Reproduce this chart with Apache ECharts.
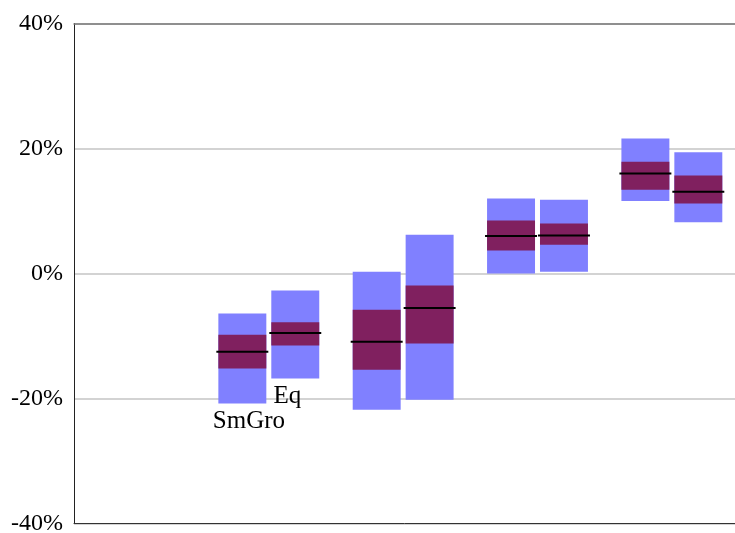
<!DOCTYPE html>
<html>
<head>
<meta charset="utf-8">
<style>
  html, body { margin: 0; padding: 0; background: #fff; }
  #chart { width: 735px; height: 533px; }
</style>
<script src="https://cdn.jsdelivr.net/npm/echarts@6/dist/echarts.min.js"></script>
</head>
<body>
<div id="chart"></div>
<script>
// Period positions along the x axis
var periods = [1, 2, 3, 4];

// SmGro: range (low/high), inner band (q1/q3) and median, in %
var smGroLow  = [-20.8, -21.8, 0.0, 11.6];
var smGroQ1   = [-15.2, -15.4, 3.7, 13.4];
var smGroMed  = [-12.5, -10.9, 6.0, 16.0];
var smGroQ3   = [-9.8, -5.8, 8.5, 17.9];
var smGroHigh = [-6.4, 0.3, 12.0, 21.6];

// Eq: range (low/high), inner band (q1/q3) and median, in %
var eqLow  = [-16.8, -20.2, 0.3, 8.2];
var eqQ1   = [-11.5, -11.2, 4.6, 11.2];
var eqMed  = [-9.5, -5.5, 6.1, 13.1];
var eqQ3   = [-7.8, -1.9, 8.0, 15.7];
var eqHigh = [-2.7, 6.2, 11.8, 19.4];

var yTicks = [-40, -20, 0, 20, 40];

var FONT = "'Liberation Serif', 'Times New Roman', serif";
var OUTER = '#8080ff';
var INNER = '#80205f';

function rows(low, q1, med, q3, high) {
  return periods.map(function (p, i) {
    return [p, low[i], q1[i], med[i], q3[i], high[i]];
  });
}

// Box drawn from the axis scales; shift is the side offset and
// labelDx the horizontal nudge of the series name under the first box.
function makeRender(shift, labelDx) {
  return function (params, api) {
    var unit = api.size([1, 0])[0];
    var w = unit * 0.357;
    var x = api.value(0) + shift;
    var cx = api.coord([x, 0])[0];
    var yLow = api.coord([x, api.value(1)])[1];
    var yQ1 = api.coord([x, api.value(2)])[1];
    var yMed = api.coord([x, api.value(3)])[1];
    var yQ3 = api.coord([x, api.value(4)])[1];
    var yHigh = api.coord([x, api.value(5)])[1];
    var children = [
      { type: 'rect', shape: { x: cx - w / 2, y: yHigh, width: w, height: yLow - yHigh },
        style: { fill: OUTER } },
      { type: 'rect', shape: { x: cx - w / 2, y: yQ3, width: w, height: yQ1 - yQ3 },
        style: { fill: INNER } },
      { type: 'line', shape: { x1: cx - w / 2 - 2, y1: yMed, x2: cx + w / 2 + 2, y2: yMed },
        style: { stroke: '#000', lineWidth: 2 } }
    ];
    if (params.dataIndex === 0) {
      children.push({
        type: 'text',
        style: {
          x: cx + labelDx, y: yLow + 18,
          text: params.seriesName,
          fill: '#000',
          font: '25px ' + FONT,
          align: 'center',
          verticalAlign: 'middle'
        }
      });
    }
    return { type: 'group', children: children };
  };
}

var chart = echarts.init(document.getElementById('chart'), null, { renderer: 'canvas' });

chart.setOption({
  animation: false,
  backgroundColor: '#fff',
  grid: {
    left: 74, right: 0, top: 23.5, bottom: 9.5,
    containLabel: false, outerBoundsMode: 'none'
  },
  xAxis: [
    {
      type: 'value', min: -0.45, max: 4.47, position: 'bottom',
      axisLine: { show: true, onZero: false, lineStyle: { color: '#333', width: 1 } },
      axisTick: { show: false }, axisLabel: { show: false }, splitLine: { show: false }
    },
    {
      type: 'value', min: -0.45, max: 4.47, position: 'top',
      axisLine: { show: true, onZero: false, lineStyle: { color: '#7a7a7a', width: 1.5 } },
      axisTick: { show: false }, axisLabel: { show: false }, splitLine: { show: false }
    }
  ],
  yAxis: {
    type: 'value',
    min: yTicks[0], max: yTicks[yTicks.length - 1], interval: 20,
    axisLine: { show: true, onZero: false, lineStyle: { color: '#222', width: 1 } },
    axisTick: { show: false },
    axisLabel: {
      formatter: '{value}%', color: '#000', fontFamily: FONT, fontSize: 24, margin: 11
    },
    splitLine: {
      show: true,
      lineStyle: { color: '#c4c4c4', width: 1.5 }
    }
  },
  series: [
    {
      name: 'SmGro', type: 'custom', xAxisIndex: 0,
      renderItem: makeRender(-0.197, 6.6),
      encode: { x: 0, y: [1, 2, 3, 4, 5] },
      data: rows(smGroLow, smGroQ1, smGroMed, smGroQ3, smGroHigh),
      z: 3
    },
    {
      name: 'Eq', type: 'custom', xAxisIndex: 0,
      renderItem: makeRender(0.197, -8),
      encode: { x: 0, y: [1, 2, 3, 4, 5] },
      data: rows(eqLow, eqQ1, eqMed, eqQ3, eqHigh),
      z: 3
    }
  ]
});
</script>
</body>
</html>
